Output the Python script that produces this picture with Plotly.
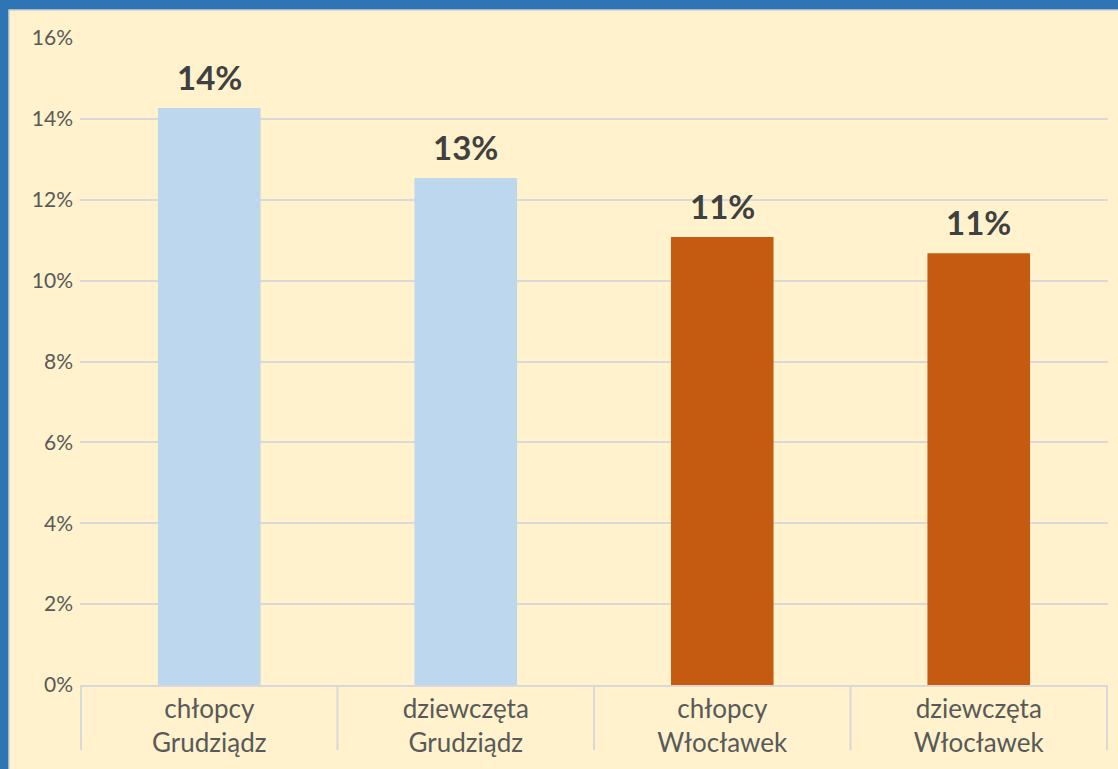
import plotly.graph_objects as go

categories = ["chłopcy<br>Grudziądz", "dziewczęta<br>Grudziądz", "chłopcy<br>Włocławek", "dziewczęta<br>Włocławek"]
values = [14.27, 12.54, 11.08, 10.68]
colors = ["#BDD7EE", "#BDD7EE", "#C55A11", "#C55A11"]
y_ticks = [0, 2, 4, 6, 8, 10, 12, 14, 16]
y_tick_labels = [f"{v}%" for v in y_ticks]

W, H = 1118, 769
L, R, T, B = 80, 10, 38, 84
pw, ph = W - L - R, H - T - B

def px_x(x):
    return (x - L) / pw

def px_y(y):
    return (H - B - y) / ph

fig = go.Figure()
fig.add_trace(go.Bar(
    x=categories, y=values, marker=dict(color=colors, line=dict(width=0)),
    width=0.4, hoverinfo="skip",
))
for c, v in zip(categories, values):
    fig.add_annotation(x=c, y=v, text=f"{round(v):.0f}%", showarrow=False,
                       yanchor="bottom", yshift=9,
                       font=dict(family="Lato", size=33, color="#404040", weight="bold"))

shapes = [
    dict(type="rect", xref="paper", yref="paper", layer="below",
         x0=px_x(0), x1=px_x(W), y0=px_y(H), y1=px_y(0),
         fillcolor="#2E75B6", line=dict(width=0)),
    dict(type="rect", xref="paper", yref="paper", layer="below",
         x0=px_x(9), x1=px_x(W + 5), y0=px_y(H + 5), y1=px_y(10),
         fillcolor="#FFF2CC", line=dict(width=1.5, color="#D0D0D0")),
]
for i in range(len(categories) + 1):
    shapes.append(dict(type="line", xref="x", yref="paper", x0=i - 0.5, x1=i - 0.5,
                       y0=0, y1=px_y(750), line=dict(color="#D9D9D9", width=2)))
fig.update_layout(
    width=W, height=H,
    margin=dict(l=L, r=R, t=T, b=B, pad=0),
    paper_bgcolor="#FFF2CC", plot_bgcolor="rgba(0,0,0,0)",
    shapes=shapes, showlegend=False, bargap=0.6,
    font=dict(family="Lato", color="#595959"),
)
fig.update_yaxes(range=[0, 16], tickmode="array", tickvals=y_ticks, ticktext=y_tick_labels,
                 showgrid=True, gridcolor="#D9D9D9", gridwidth=1.5,
                 zeroline=False, showline=False, ticks="",
                 tickfont=dict(size=21, color="#595959"), ticklabelstandoff=6)
fig.update_xaxes(showline=True, linecolor="#D9D9D9", linewidth=2, ticks="",
                 tickfont=dict(size=26, color="#595959"), ticklabelstandoff=0)

fig.write_html("out.html", config={"displayModeBar": False},
               post_script="document.body.style.margin='0';document.body.style.overflow='hidden';")
